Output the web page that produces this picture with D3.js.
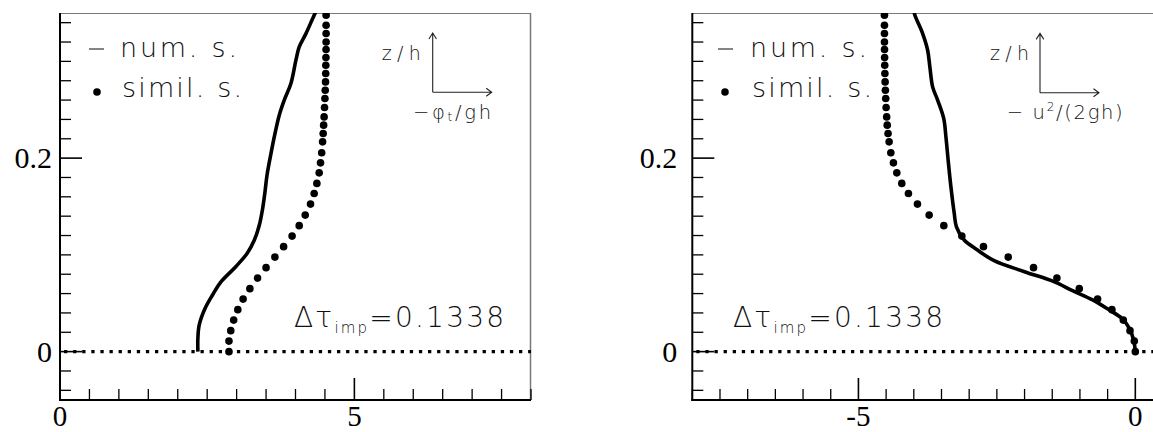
<!DOCTYPE html>
<html>
<head>
<meta charset="utf-8">
<script src="https://cdn.jsdelivr.net/npm/d3@7"></script>
<style>
  html, body { margin: 0; padding: 0; background: #fff; }
  svg { display: block; }
</style>
</head>
<body>
<svg id="fig" width="1153" height="432"></svg>
<script>
// Vertical profiles at the impact instant (Δτ_imp = 0.1338):
// numerical solution (solid line) vs. similarity solution (dots).

// heights z/h of the similarity-solution points (shared by both panels)
const simZ = [0, 0.0109, 0.0217, 0.0326, 0.0434, 0.0543, 0.0651, 0.0760, 0.0868, 0.0977,
  0.1085, 0.1194, 0.1302, 0.1411, 0.1525, 0.1635, 0.1739, 0.1848, 0.1951, 0.2055,
  0.2168, 0.2255, 0.2341, 0.2426, 0.2523, 0.2616, 0.2702, 0.2788, 0.2875, 0.2960,
  0.3040, 0.3122, 0.3201, 0.3288, 0.3374, 0.3477];

// left panel: -phi_t/(gh)
const leftSimX = [2.87, 2.87, 2.90, 2.95, 3.02, 3.11, 3.225, 3.355, 3.50, 3.65,
  3.798, 3.942, 4.063, 4.165, 4.255, 4.317, 4.363, 4.402, 4.425, 4.445,
  4.46, 4.47, 4.478, 4.486, 4.493, 4.50, 4.505, 4.51, 4.513, 4.515,
  4.517, 4.519, 4.52, 4.52, 4.52, 4.52];
const leftNumZ = [0, 0.0138, 0.0276, 0.0448, 0.0585, 0.0723, 0.0878, 0.1016, 0.1153, 0.1308,
  0.1480, 0.1652, 0.1824, 0.2049, 0.2255, 0.2444, 0.2599, 0.2771, 0.3012, 0.3149,
  0.3287, 0.3477, 0.3530];
const leftNumX = [2.342, 2.342, 2.365, 2.465, 2.59, 2.737, 2.985, 3.180, 3.301, 3.386,
  3.442, 3.482, 3.516, 3.584, 3.652, 3.724, 3.809, 3.922, 4.007, 4.063,
  4.177, 4.317, 4.36];

// right panel: -u^2/(2gh)
const rightSimX = [0, -0.018, -0.096, -0.217, -0.422, -0.681, -1.012, -1.416, -1.838, -2.295,
  -2.742, -3.132, -3.458, -3.723, -3.934, -4.097, -4.217, -4.307, -4.368, -4.415,
  -4.446, -4.465, -4.48, -4.49, -4.50, -4.507, -4.513, -4.518, -4.522, -4.525,
  -4.527, -4.529, -4.53, -4.53, -4.53, -4.53];
const rightNumZ = [0, 0.012, 0.0241, 0.0345, 0.043, 0.0534, 0.063, 0.0723, 0.0826, 0.094,
  0.105, 0.1153, 0.129, 0.143, 0.1704, 0.198, 0.222, 0.241, 0.26, 0.2736,
  0.2943, 0.3115, 0.3287, 0.3477, 0.353];
const rightNumX = [0, -0.03, -0.108, -0.245, -0.47, -0.771, -1.133, -1.47, -2.0, -2.55,
  -2.85, -3.09, -3.23, -3.27, -3.33, -3.38, -3.42, -3.46, -3.57, -3.66,
  -3.71, -3.75, -3.84, -3.98, -4.0];

// axes
const zDomain = [-0.05, 0.35];
const yMajor = [0, 0.2];
const yMajorLabels = ["0", "0.2"];
const leftXDomain = [0, 8];
const leftXMajor = [0, 5];
const leftXLabels = ["0", "5"];
const rightXDomain = [-8, 0.5];
const rightXMajor = [-5, 0];
const rightXLabels = ["-5", "0"];

const legendLabels = ["num. s.", "simil. s."];
const impactLabel = { pre: "Δτ", sub: "imp", post: "=0.1338" };

const svg = d3.select("#fig");
const TOP = 13, BOTTOM = 400;
const serif = "'Liberation Serif', 'Times New Roman', serif";
const thin = "'DejaVu Sans', Roboto, sans-serif";

const panels = [
  {
    key: "L", left: 60, right: 531, xDomain: leftXDomain, xMajor: leftXMajor, xLabels: leftXLabels,
    simX: leftSimX, numX: leftNumX, numZ: leftNumZ, yLabelGap: 8,
    legend: { dashX: 89, textX: 120, dotX: 97 },
    axisOrigin: [432.7, 92.3],
    zLabel: { x: 381.7, w: 39 },
    xLabel: { x: 413, w: 78, kind: "phi" },
    impact: { x: 294, w: 210 }
  },
  {
    key: "R", left: 692.3, right: 1163, xDomain: rightXDomain, xMajor: rightXMajor, xLabels: rightXLabels,
    simX: rightSimX, numX: rightNumX, numZ: rightNumZ, yLabelGap: 15,
    legend: { dashX: 718, textX: 750, dotX: 725 },
    axisOrigin: [1040, 92.7],
    zLabel: { x: 990, w: 39 },
    xLabel: { x: 1006.7, w: 116, kind: "u2" },
    impact: { x: 733, w: 210 }
  }
];

function stepTicks(domain, step) {
  const a = Math.ceil(domain[0] / step - 1e-9), b = Math.floor(domain[1] / step + 1e-9);
  return d3.range(a, b + 1).map(i => +(i * step).toFixed(6));
}

const defs = svg.append("defs");

panels.forEach(p => {
  const x = d3.scaleLinear().domain(p.xDomain).range([p.left, p.right]);
  const y = d3.scaleLinear().domain(zDomain).range([BOTTOM, TOP]);
  const g = svg.append("g");

  defs.append("clipPath").attr("id", "clip" + p.key)
    .append("rect").attr("x", p.left).attr("y", TOP)
    .attr("width", p.right - p.left).attr("height", BOTTOM - TOP);

  // frame: thin grey top/right, black left/bottom axes
  g.append("line").attr("x1", p.left).attr("x2", p.right).attr("y1", TOP + 0.5).attr("y2", TOP + 0.5)
    .attr("stroke", "#7a7a7a").attr("stroke-width", 1.2);
  g.append("line").attr("x1", p.right - 0.5).attr("x2", p.right - 0.5).attr("y1", TOP).attr("y2", BOTTOM)
    .attr("stroke", "#7a7a7a").attr("stroke-width", 1.5);

  const plot = g.append("g").attr("clip-path", `url(#clip${p.key})`);

  // dotted reference line at z = 0
  plot.append("line")
    .attr("x1", p.left).attr("x2", p.right).attr("y1", y(0)).attr("y2", y(0))
    .attr("stroke", "#000").attr("stroke-width", 3.2)
    .attr("stroke-dasharray", "3.3 5.8").attr("stroke-dashoffset", -4);

  // numerical solution
  const pts = p.numX.map((v, i) => [v, p.numZ[i]]);
  plot.append("path")
    .datum(pts)
    .attr("d", d3.line().x(d => x(d[0])).y(d => y(d[1])).curve(d3.curveCatmullRom.alpha(0.5)))
    .attr("fill", "none").attr("stroke", "#000").attr("stroke-width", 3.6)
    .attr("stroke-linejoin", "round");

  // similarity solution
  plot.selectAll("circle.sim")
    .data(p.simX.map((v, i) => [v, simZ[i]]))
    .join("circle").attr("class", "sim")
    .attr("cx", d => x(d[0])).attr("cy", d => y(d[1])).attr("r", 3.8).attr("fill", "#000");

  // y ticks
  const yMinor = stepTicks(zDomain, 0.02).filter(v => v > zDomain[0] && !yMajor.includes(v));
  g.selectAll("line.ymin").data(yMinor).join("line")
    .attr("x1", p.left).attr("x2", p.left + 11).attr("y1", d => y(d)).attr("y2", d => y(d))
    .attr("stroke", "#000").attr("stroke-width", 1.3);
  g.selectAll("line.ymaj").data(yMajor).join("line")
    .attr("x1", p.left).attr("x2", p.left + 22).attr("y1", d => y(d)).attr("y2", d => y(d))
    .attr("stroke", "#000").attr("stroke-width", 1.6);
  g.selectAll("text.ylab").data(yMajor).join("text")
    .attr("x", p.left - p.yLabelGap).attr("y", d => y(d) + 10)
    .attr("text-anchor", "end").attr("font-family", serif).attr("font-size", 30)
    .text((d, i) => yMajorLabels[i]);

  // x ticks
  const xMinor = stepTicks(p.xDomain, 0.5).filter(v => !p.xMajor.includes(v));
  g.selectAll("line.xmin").data(xMinor).join("line")
    .attr("x1", d => x(d)).attr("x2", d => x(d)).attr("y1", BOTTOM).attr("y2", BOTTOM - 11)
    .attr("stroke", "#000").attr("stroke-width", 1.3);
  g.selectAll("line.xmaj").data(p.xMajor).join("line")
    .attr("x1", d => x(d)).attr("x2", d => x(d)).attr("y1", BOTTOM).attr("y2", BOTTOM - 22)
    .attr("stroke", "#000").attr("stroke-width", 1.6);
  g.selectAll("text.xlab").data(p.xMajor).join("text")
    .attr("x", d => x(d)).attr("y", 425.5)
    .attr("text-anchor", "middle").attr("font-family", serif).attr("font-size", 29)
    .text((d, i) => p.xLabels[i]);

  // axis lines
  g.append("line").attr("x1", p.left).attr("x2", p.left).attr("y1", TOP).attr("y2", BOTTOM + 1)
    .attr("stroke", "#000").attr("stroke-width", 2);
  g.append("line").attr("x1", p.left - 1).attr("x2", p.right).attr("y1", BOTTOM).attr("y2", BOTTOM)
    .attr("stroke", "#000").attr("stroke-width", 2);

  // legend
  const L = p.legend;
  const txt = sel => sel.attr("font-family", thin).attr("font-weight", 200).attr("fill", "#111");
  g.append("line").attr("x1", L.dashX).attr("x2", L.dashX + 15).attr("y1", 49).attr("y2", 49)
    .attr("stroke", "#333").attr("stroke-width", 1.2);
  g.append("text").attr("x", L.textX).attr("y", 57).attr("font-size", 27)
    .attr("textLength", 117).attr("lengthAdjust", "spacing").call(txt).text(legendLabels[0]);
  g.append("circle").attr("cx", L.dotX).attr("cy", 92).attr("r", 3.8).attr("fill", "#000");
  g.append("text").attr("x", L.textX + 2).attr("y", 97).attr("font-size", 27)
    .attr("textLength", 120).attr("lengthAdjust", "spacing").call(txt).text(legendLabels[1]);

  // axis-orientation sketch
  const [ox, oy] = p.axisOrigin;
  g.append("path")
    .attr("d", `M${ox},${oy}V${oy - 59.3}M${ox - 3.8},${oy - 53.3}L${ox},${oy - 59.3}L${ox + 3.8},${oy - 53.3}` +
               `M${ox},${oy}H${ox + 59}M${ox + 53.5},${oy - 4}L${ox + 59},${oy}L${ox + 53.5},${oy + 4}`)
    .attr("fill", "none").attr("stroke", "#222").attr("stroke-width", 1.1);
  g.append("text").attr("x", p.zLabel.x).attr("y", 60).attr("font-size", 19)
    .attr("textLength", p.zLabel.w).attr("lengthAdjust", "spacing").call(txt).text("z/h");

  const xl = g.append("text").attr("x", p.xLabel.x).attr("y", 119).attr("font-size", 19.5)
    .attr("textLength", p.xLabel.w).attr("lengthAdjust", "spacing").call(txt);
  if (p.xLabel.kind === "phi") {
    xl.append("tspan").text("−φ");
    xl.append("tspan").attr("font-size", 12).attr("dy", 2).text("t");
    xl.append("tspan").attr("dy", -2).text("/gh");
  } else {
    xl.append("tspan").text("− u");
    xl.append("tspan").attr("font-size", 12).attr("dy", -8).text("2");
    xl.append("tspan").attr("dy", 8).text("/(2gh)");
  }

  // impact time annotation
  const it = g.append("text").attr("x", p.impact.x).attr("y", 327).attr("font-size", 28)
    .attr("textLength", p.impact.w).attr("lengthAdjust", "spacing").call(txt);
  it.append("tspan").text(impactLabel.pre);
  it.append("tspan").attr("font-size", 15).attr("dy", 6).text(impactLabel.sub);
  it.append("tspan").attr("dy", -6).text(impactLabel.post);
});
</script>
</body>
</html>
